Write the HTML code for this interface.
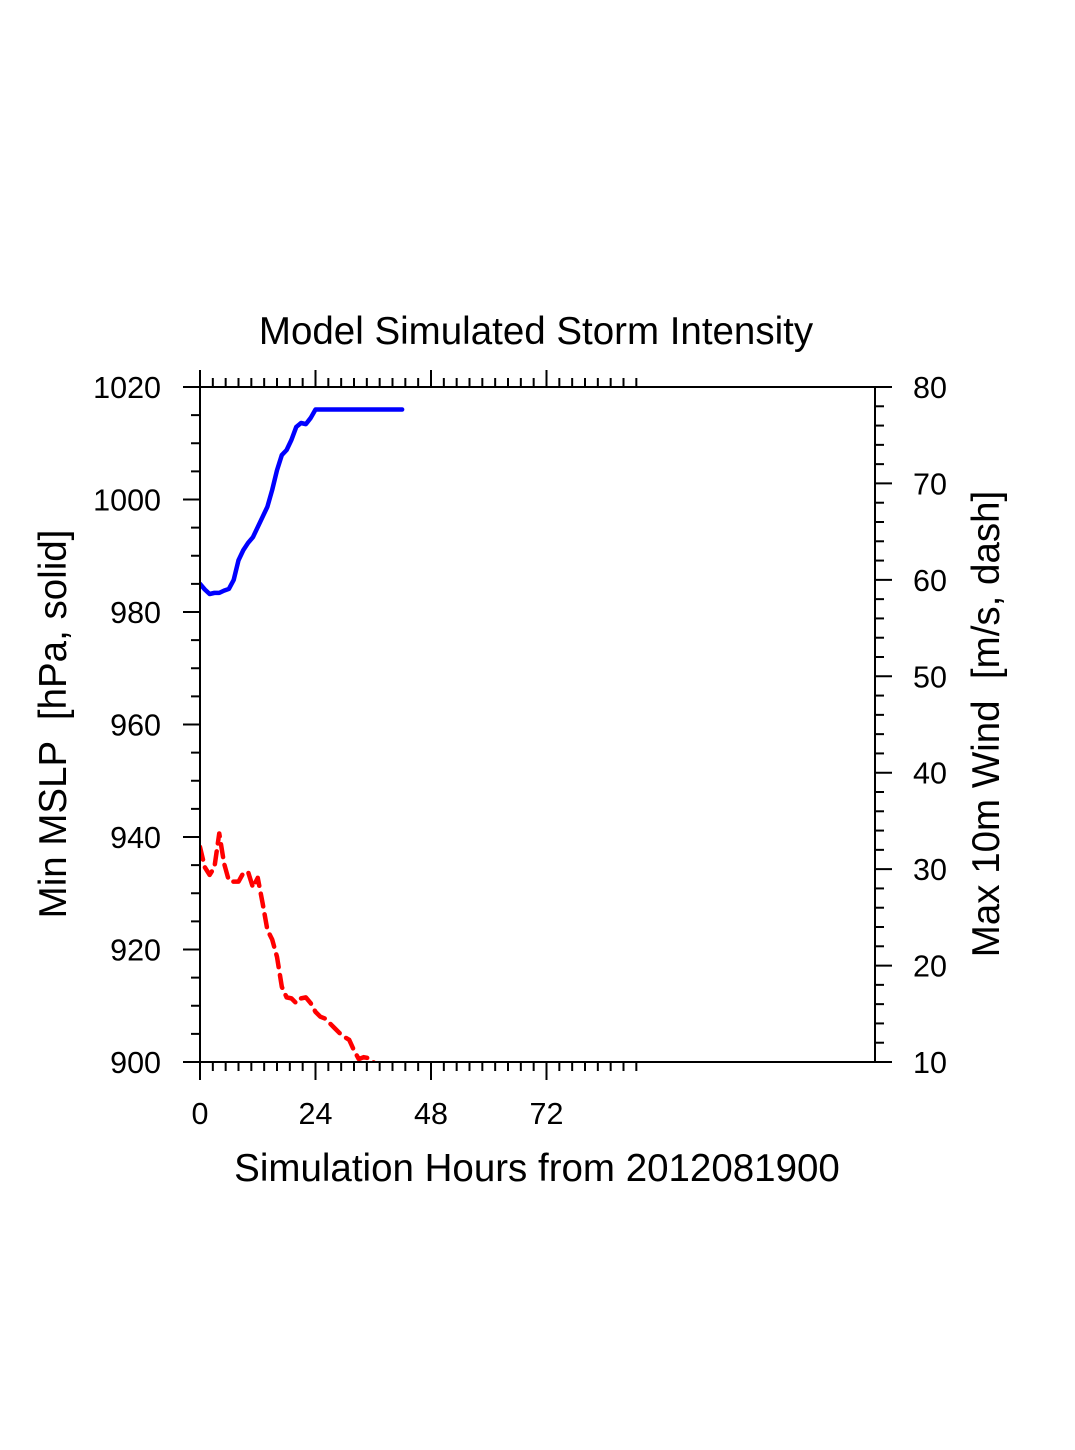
<!DOCTYPE html>
<html><head><meta charset="utf-8"><style>
html,body{margin:0;padding:0;background:#fff;}
svg{display:block;font-family:"Liberation Sans",Arial,sans-serif;}
</style></head><body>
<svg id="chart" width="1075" height="1450" viewBox="0 0 1075 1450" xmlns="http://www.w3.org/2000/svg">
<rect width="1075" height="1450" fill="#fff"/>
<text x="536" y="344" font-size="38.5" text-anchor="middle">Model Simulated Storm Intensity</text>
<text x="537" y="1181" font-size="38.5" text-anchor="middle">Simulation Hours from 2012081900</text>
<text transform="translate(66,724) rotate(-90)" font-size="38.5" text-anchor="middle">Min MSLP &#160;[hPa, solid]</text>
<text transform="translate(999,724) rotate(-90)" font-size="38.5" text-anchor="middle">Max 10m Wind &#160;[m/s, dash]</text>
<defs><clipPath id="plotclip"><rect x="200" y="387" width="675" height="675"/></clipPath></defs>
<g id="ticks"></g>
<g id="series" clip-path="url(#plotclip)"></g>
<rect x="200" y="387" width="675" height="675" fill="none" stroke="#000" stroke-width="2"/>
</svg>
<script>
const hours = [0,1,2,3,4,5,6,7,8,9,10,11,12,13,14,15,16,17,18,19,20,21,22,23,24,25,26,27,28,29,30,31,32,33,34,35,36,37,38,39,40,41,42];
const mslp = [985,984,983.2,983.4,983.4,983.8,984.1,985.7,989.2,991,992.3,993.3,995.1,996.9,998.7,1001.7,1005.2,1007.9,1008.8,1010.6,1012.9,1013.6,1013.4,1014.5,1016,1016,1016,1016,1016,1016,1016,1016,1016,1016,1016,1016,1016,1016,1016,1016,1016,1016,1016];
const windHours = [0,1,2,3,4,5,6,7,8,9,10,11,12,13,14,15,16,17,18,19,20,21,22,23,24,25,26,27,28,29,30,31,32,33,34,35,36,37];
const wind = [32.3,30.2,29.4,30.2,33.7,30.6,28.8,28.7,28.7,29.6,29.7,28.1,29.1,26.5,23.7,22.7,20.9,17.8,16.7,16.6,16.1,16.6,16.7,16.1,15.2,14.7,14.5,14.0,13.5,13.0,12.6,12.3,11.2,10.3,10.5,10.4,10.0,9.5];
const xMajorTicks = [0,24,48,72];
const leftTicks = [900,920,940,960,980,1000,1020];
const rightTicks = [10,20,30,40,50,60,70,80];

const X0=200,X1=875,Y0=1062,Y1=387;
const xMax = 675/4.8125;
const xs = h => X0 + h/xMax*(X1-X0);
const yl = p => Y0 - (p-900)/120*(Y0-Y1);
const yr = w => Y0 - (w-10)/70*(Y0-Y1);
const NS="http://www.w3.org/2000/svg";
const tg=document.getElementById('ticks');
const sg=document.getElementById('series');
function line(x1,y1,x2,y2,name){
  const l=document.createElementNS(NS,'line');
  l.setAttribute('x1',x1);l.setAttribute('y1',y1);l.setAttribute('x2',x2);l.setAttribute('y2',y2);
  l.setAttribute('stroke','#000');l.setAttribute('stroke-width','2');
  
  
  tg.appendChild(l);
}
function label(x,y,t,anchor,name){
  const e=document.createElementNS(NS,'text');
  e.setAttribute('x',x);e.setAttribute('y',y);e.setAttribute('font-size','30.5');
  e.setAttribute('text-anchor',anchor);e.textContent=t;
  
  
  tg.appendChild(e);
}
xMajorTicks.forEach(h=>{
  const x=xs(h);
  line(x,Y0,x,Y0+18,'x-major-tick');
  line(x,Y1,x,Y1-17,'x-top-major-tick');
  label(x,Y0+62,String(h),'middle','x-tick-label');
});
for(let i=1;i<=34;i++){
  const h=i*24/9; if(i%9===0) continue;
  const x=xs(h);
  line(x,Y0,x,Y0+9,'x-minor-tick');
  line(x,Y1,x,Y1-9,'x-top-minor-tick');
}
leftTicks.forEach(p=>{
  const y=yl(p);
  line(X0-17,y,X0,y,'left-major-tick');
  label(X0-39,y+11,String(p),'end','left-tick-label');
});
for(let p=905;p<1020;p+=5){ if(p%20===0) continue; line(X0-9,yl(p),X0,yl(p),'left-minor-tick'); }
rightTicks.forEach(w=>{
  const y=yr(w);
  line(X1,y,X1+17,y,'right-major-tick');
  label(X1+38,y+11,String(w),'start','right-tick-label');
});
for(let w=12;w<80;w+=2){ if(w%10===0) continue; line(X1,yr(w),X1+9,yr(w),'right-minor-tick'); }
const p1=document.createElementNS(NS,'polyline');
p1.setAttribute('points',hours.map((h,i)=>xs(h)+','+yl(mslp[i])).join(' '));
p1.setAttribute('fill','none');p1.setAttribute('stroke','#0000ff');p1.setAttribute('stroke-width','4.5');
p1.setAttribute('stroke-linejoin','round');p1.setAttribute('stroke-linecap','round');


sg.appendChild(p1);
const p2=document.createElementNS(NS,'polyline');
p2.setAttribute('points',windHours.map((h,i)=>xs(h)+','+yr(wind[i])).join(' '));
p2.setAttribute('fill','none');p2.setAttribute('stroke','#ff0000');p2.setAttribute('stroke-width','4.5');
p2.setAttribute('stroke-dasharray','13 8');p2.setAttribute('stroke-linejoin','round');p2.setAttribute('stroke-linecap','round');


sg.appendChild(p2);
</script>
</body></html>
